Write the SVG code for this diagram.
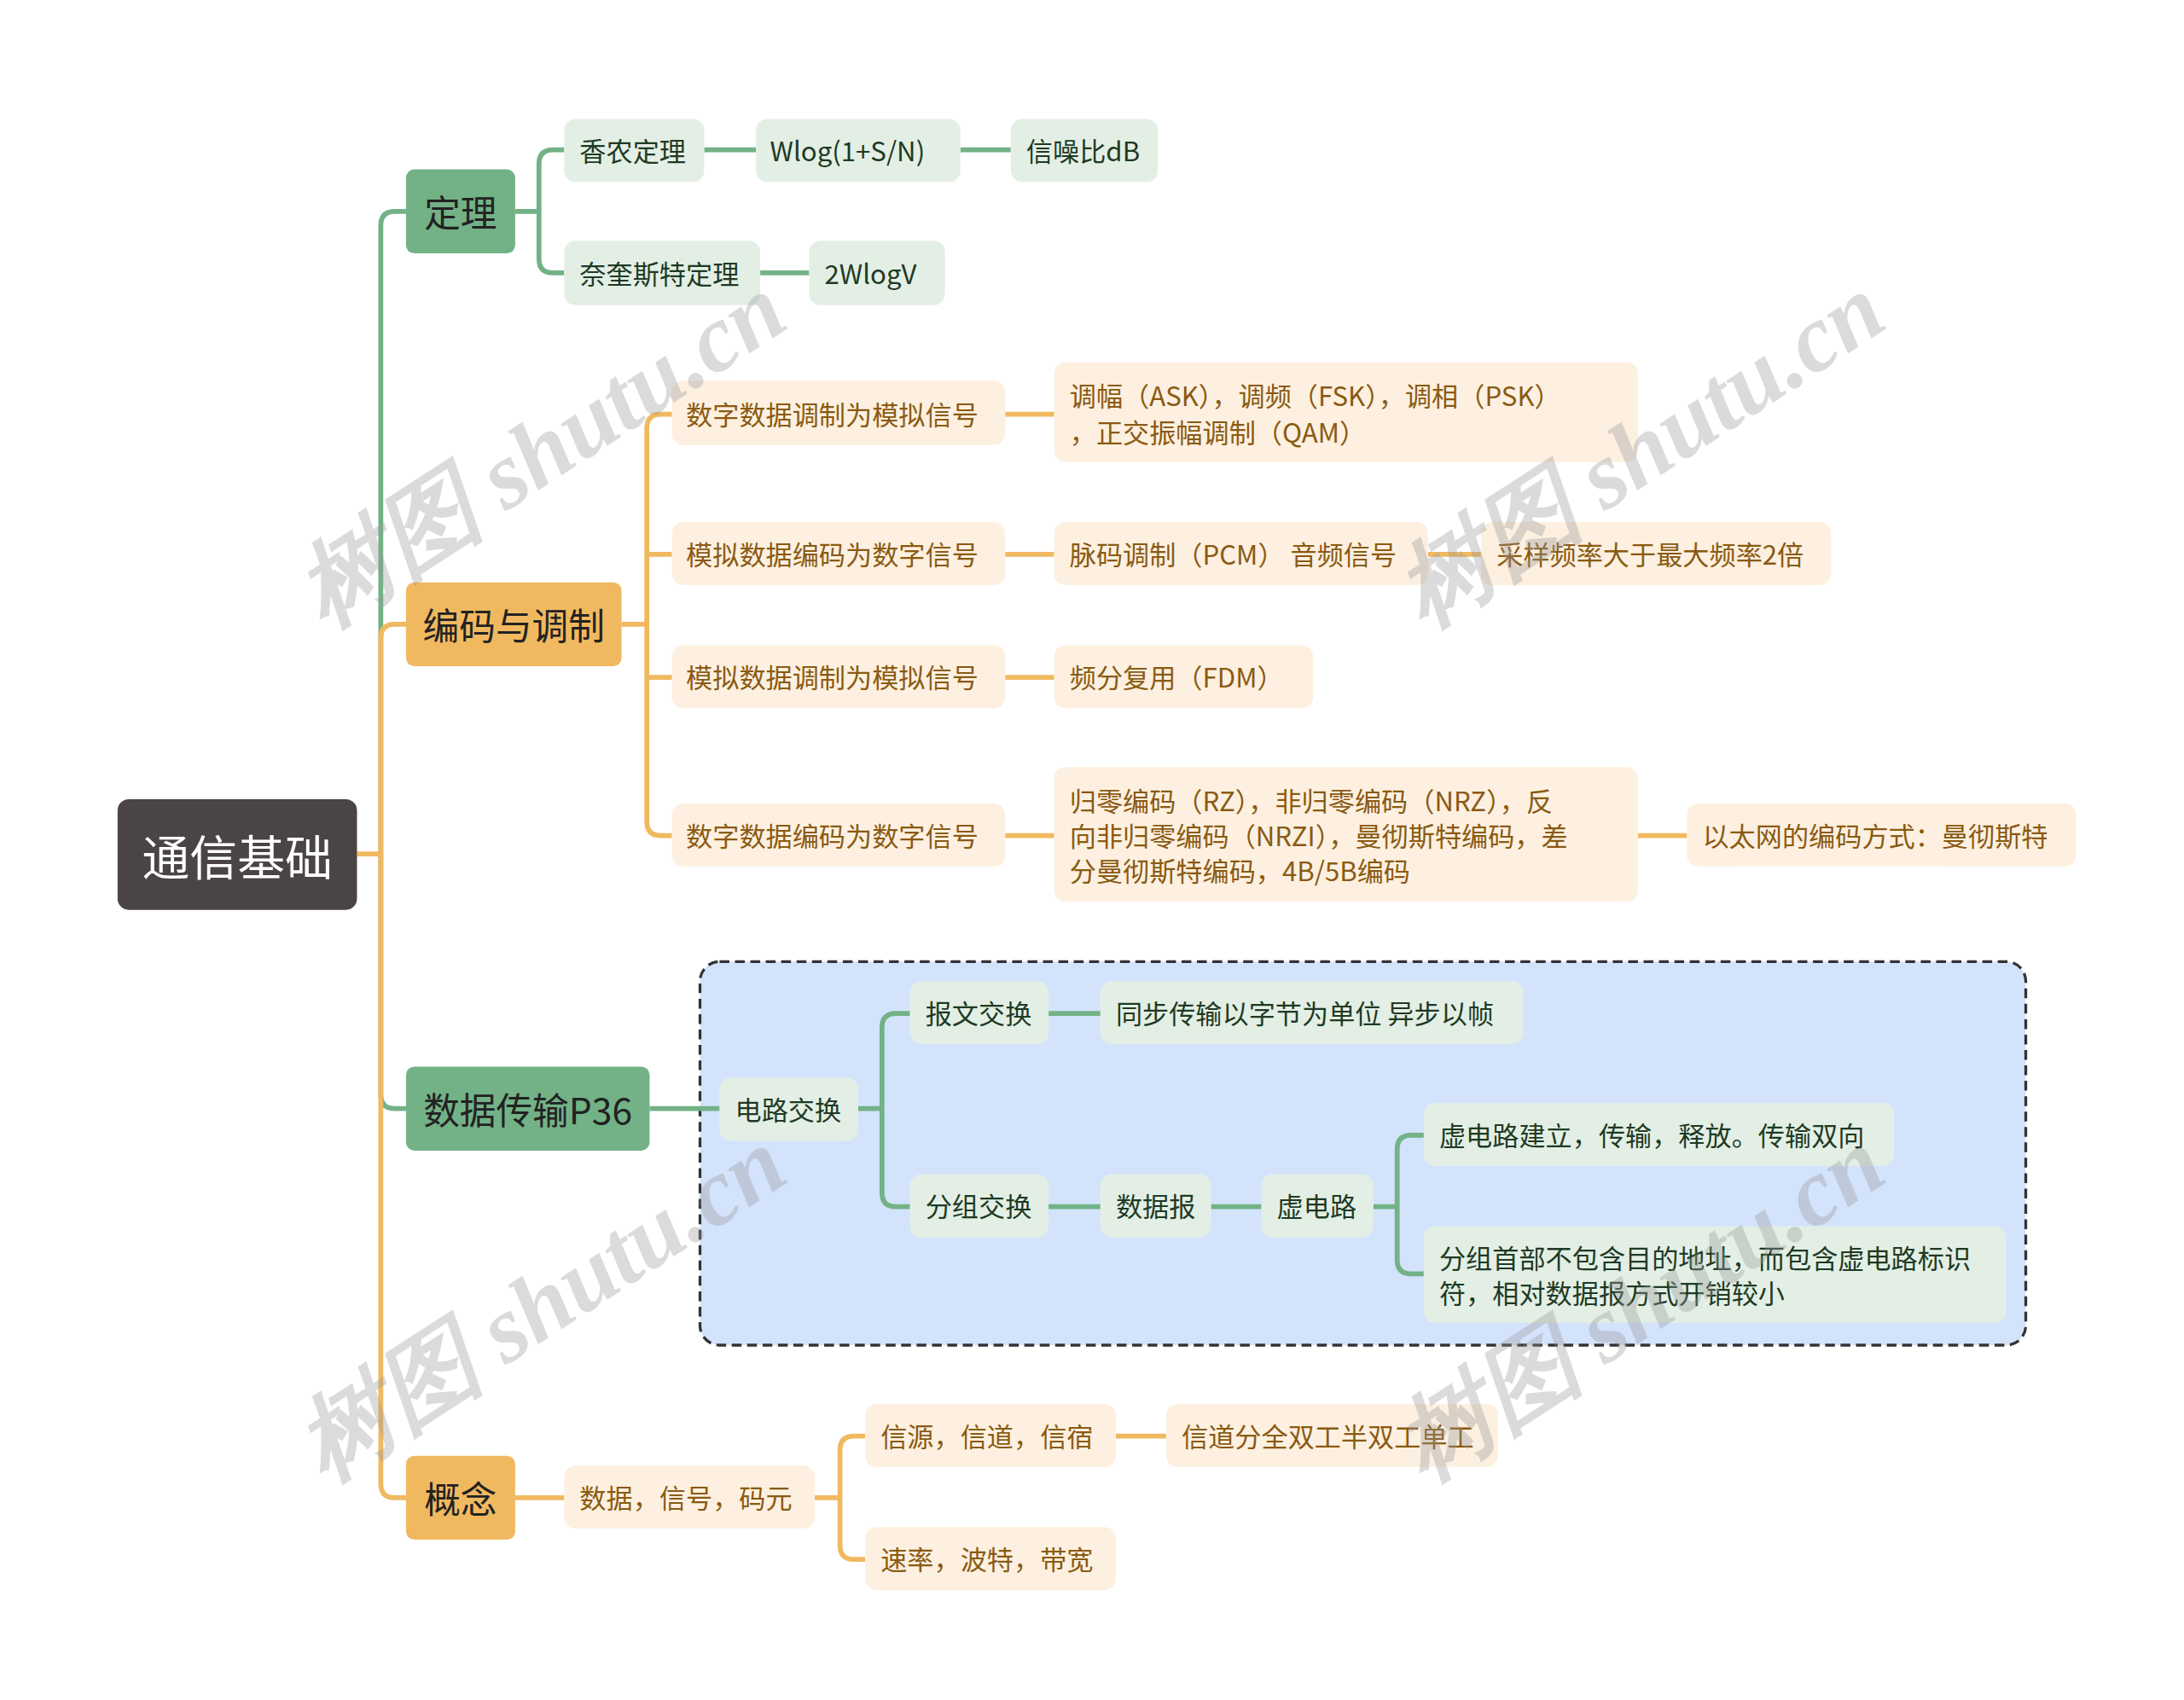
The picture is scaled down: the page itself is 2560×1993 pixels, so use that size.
<svg xmlns="http://www.w3.org/2000/svg" width="2560" height="1993" viewBox="0 0 2560 1993">
<style>
text{font-family:"Noto Sans CJK SC","Noto Sans",sans-serif;dominant-baseline:central}
.g1{fill:#72b286}.o1{fill:#f0b960}
.g2{fill:#e3efe5}.o2{fill:#fdf0e0}
.tg{fill:#1e3a24;font-size:19px}.to{fill:#8a5a12;font-size:19px}
.tm{fill:#222;font-size:26px}
.cg{fill:none;stroke:#72b286;stroke-width:3.5}
.co{fill:none;stroke:#f0b960;stroke-width:3.5}
.wm{font-family:"Liberation Serif",serif;font-style:italic;font-weight:bold;font-size:68px;fill:#999;opacity:0.35}
</style>
<rect width="2560" height="1993" fill="#fff"/>
<g transform="scale(1.641)">
<rect id="frame" x="500" y="687" width="947" height="274" rx="14" fill="#d3e3fc" stroke="#333" stroke-width="2" stroke-dasharray="7,4"/>
<g id="connectors">
<path class="cg" d="M272,610 V161 Q272,151 282,151 H290"/>
<path class="cg" d="M272,610 V782 Q272,792 282,792 H290"/>
<path class="co" d="M255,610 H272 V456 Q272,446 282,446 H290"/>
<path class="co" d="M272,610 V1060 Q272,1070 282,1070 H290"/>
<path class="cg" d="M368,151 H385 M403,107 H395 Q385,107 385,117 V185 Q385,195 395,195 H403 M503,107 H540 M686,107 H722 M543,195 H578"/>
<path class="co" d="M444,446 H462 M480,296 H472 Q462,296 462,306 V587 Q462,597 472,597 H480 M462,396 Q462,396 472,396 H480 M462,484 H480 M718,296 H753 M718,396 H753 M1020,396 H1058 M718,484 H753 M718,597 H753 M1170,597 H1205"/>
<path class="cg" d="M464,792 H514 M613,792 H630 M650,724 H640 Q630,724 630,734 V852 Q630,862 640,862 H650 M749,724 H786 M749,862 H786 M865,862 H901 M981,862 H998 M1017,811 H1008 Q998,811 998,821 V900 Q998,910 1008,910 H1017"/>
<path class="co" d="M368,1070 H403 M582,1070 H600 M618,1026 H610 Q600,1026 600,1036 V1104 Q600,1114 610,1114 H618 M797,1026 H833"/>
</g>
<g id="root"><rect x="84" y="571" width="171" height="79" rx="8" fill="#4a4444"/><text x="169.5" y="610.5" text-anchor="middle" font-size="34" fill="#fff">通信基础</text></g>
<g id="n1"><rect class="g1" x="290" y="121" width="78" height="60" rx="6"/><text class="tm" x="329" y="151" text-anchor="middle">定理</text></g>
<g id="n2"><rect class="o1" x="290" y="416" width="154" height="60" rx="6"/><text class="tm" x="367" y="446" text-anchor="middle">编码与调制</text></g>
<g id="n3"><rect class="g1" x="290" y="762" width="174" height="60" rx="6"/><text class="tm" x="377" y="792" text-anchor="middle">数据传输P36</text></g>
<g id="n4"><rect class="o1" x="290" y="1040" width="78" height="60" rx="6"/><text class="tm" x="329" y="1070" text-anchor="middle">概念</text></g>
<g id="a1"><rect class="g2" x="403" y="85" width="100" height="45" rx="8"/><text class="tg" x="414" y="107">香农定理</text></g>
<g id="a2"><rect class="g2" x="540" y="85" width="146" height="45" rx="8"/><text class="tg" x="550" y="107">Wlog(1+S/N)</text></g>
<g id="a3"><rect class="g2" x="722" y="85" width="105" height="45" rx="8"/><text class="tg" x="733" y="107">信噪比dB</text></g>
<g id="a4"><rect class="g2" x="403" y="172" width="140" height="46" rx="8"/><text class="tg" x="414" y="195">奈奎斯特定理</text></g>
<g id="a5"><rect class="g2" x="578" y="172" width="97" height="46" rx="8"/><text class="tg" x="589" y="195">2WlogV</text></g>
<g id="b1"><rect class="o2" x="480" y="272" width="238" height="46" rx="8"/><text class="to" x="490" y="295">数字数据调制为模拟信号</text></g>
<g id="b2"><rect class="o2" x="753" y="259" width="417" height="71" rx="8"/><text class="to" x="764" y="282">调幅（ASK），调频（FSK），调相（PSK）</text><text class="to" x="764" y="308">，正交振幅调制（QAM）</text></g>
<g id="b3"><rect class="o2" x="480" y="373" width="238" height="45" rx="8"/><text class="to" x="490" y="395">模拟数据编码为数字信号</text></g>
<g id="b4"><rect class="o2" x="753" y="373" width="267" height="45" rx="8"/><text class="to" x="764" y="395">脉码调制（PCM） 音频信号</text></g>
<g id="b5"><rect class="o2" x="1058" y="373" width="250" height="45" rx="8"/><text class="to" x="1069" y="395">采样频率大于最大频率2倍</text></g>
<g id="b6"><rect class="o2" x="480" y="461" width="238" height="45" rx="8"/><text class="to" x="490" y="483">模拟数据调制为模拟信号</text></g>
<g id="b7"><rect class="o2" x="753" y="461" width="185" height="45" rx="8"/><text class="to" x="764" y="483">频分复用（FDM）</text></g>
<g id="b8"><rect class="o2" x="480" y="574" width="238" height="45" rx="8"/><text class="to" x="490" y="596">数字数据编码为数字信号</text></g>
<g id="b9"><rect class="o2" x="753" y="548" width="417" height="96" rx="8"/><text class="to" x="764" y="571">归零编码（RZ），非归零编码（NRZ），反</text><text class="to" x="764" y="596">向非归零编码（NRZI），曼彻斯特编码，差</text><text class="to" x="764" y="621">分曼彻斯特编码，4B/5B编码</text></g>
<g id="b10"><rect class="o2" x="1205" y="574" width="278" height="45" rx="8"/><text class="to" x="1216" y="596">以太网的编码方式：曼彻斯特</text></g>
<g id="c1"><rect class="g2" x="514" y="770" width="99" height="45" rx="8"/><text class="tg" x="525" y="792">电路交换</text></g>
<g id="c2"><rect class="g2" x="650" y="701" width="99" height="45" rx="8"/><text class="tg" x="661" y="723">报文交换</text></g>
<g id="c3"><rect class="g2" x="786" y="701" width="302" height="45" rx="8"/><text class="tg" x="797" y="723">同步传输以字节为单位 异步以帧</text></g>
<g id="c4"><rect class="g2" x="650" y="839" width="99" height="45" rx="8"/><text class="tg" x="661" y="861">分组交换</text></g>
<g id="c5"><rect class="g2" x="786" y="839" width="79" height="45" rx="8"/><text class="tg" x="797" y="861">数据报</text></g>
<g id="c6"><rect class="g2" x="901" y="839" width="80" height="45" rx="8"/><text class="tg" x="912" y="861">虚电路</text></g>
<g id="c7"><rect class="g2" x="1017" y="788" width="336" height="45" rx="8"/><text class="tg" x="1028" y="810">虚电路建立，传输，释放。传输双向</text></g>
<g id="c8"><rect class="g2" x="1017" y="876" width="416" height="69" rx="8"/><text class="tg" x="1028" y="898">分组首部不包含目的地址，而包含虚电路标识</text><text class="tg" x="1028" y="923">符，相对数据报方式开销较小</text></g>
<g id="d1"><rect class="o2" x="403" y="1047" width="179" height="45" rx="8"/><text class="to" x="414" y="1069">数据，信号，码元</text></g>
<g id="d2"><rect class="o2" x="618" y="1003" width="179" height="45" rx="8"/><text class="to" x="629" y="1025">信源，信道，信宿</text></g>
<g id="d3"><rect class="o2" x="833" y="1003" width="237" height="45" rx="8"/><text class="to" x="844" y="1025">信道分全双工半双工单工</text></g>
<g id="d4"><rect class="o2" x="618" y="1091" width="179" height="45" rx="8"/><text class="to" x="629" y="1113">速率，波特，带宽</text></g>
<g id="watermark">
<text class="wm" transform="translate(220,430) rotate(-33)">树图 shutu.cn</text>
<text class="wm" transform="translate(1005,430) rotate(-33)">树图 shutu.cn</text>
<text class="wm" transform="translate(220,1040) rotate(-33)">树图 shutu.cn</text>
<text class="wm" transform="translate(1005,1040) rotate(-33)">树图 shutu.cn</text>
</g>
</g>
</svg>
